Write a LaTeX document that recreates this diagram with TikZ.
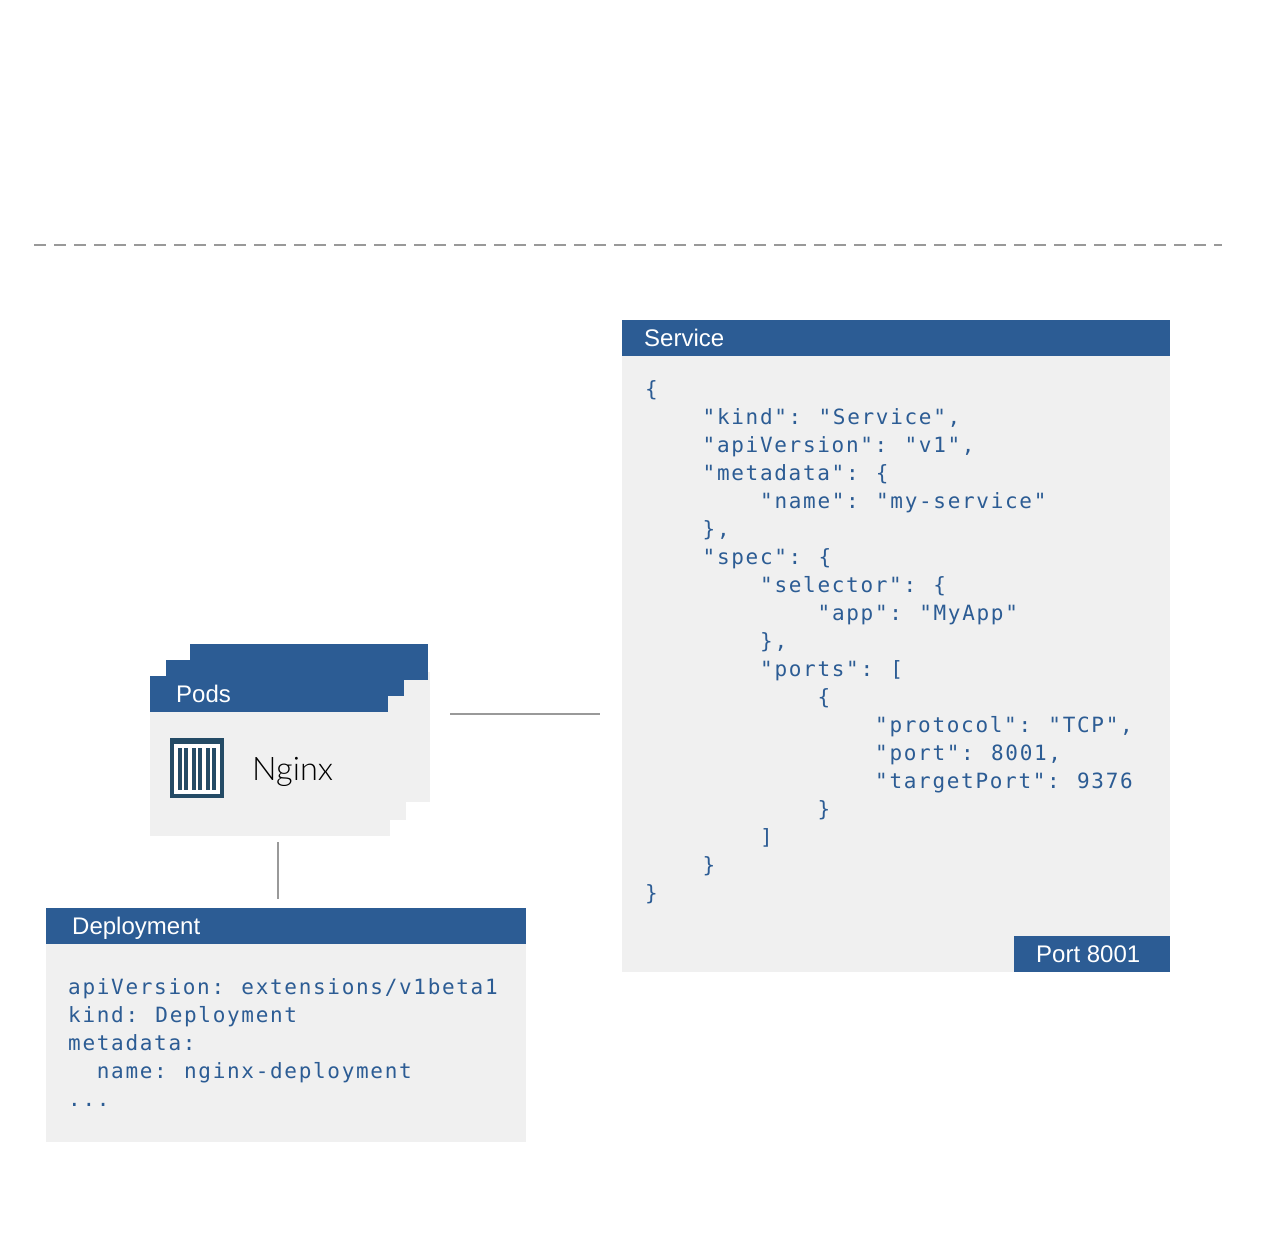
\documentclass[tikz,border=0pt]{standalone}
\usepackage{fontspec}
\setmainfont{Liberation Sans}
\newfontfamily\codefont[LetterSpace=8.05]{DejaVu Sans Mono}
\newfontfamily\lightfont{Lato Light}
\definecolor{hdr}{HTML}{2C5C94}
\definecolor{bodyg}{HTML}{F0F0F0}
\definecolor{iconc}{HTML}{244B66}
\definecolor{linec}{HTML}{999999}
\tikzset{
  box/.style={fill=#1,draw=none,inner sep=0pt,outer sep=0pt,anchor=north west},
  label/.style={text=white,inner sep=0pt,anchor=base west,font=\fontsize{24}{24}\selectfont},
  code/.style={text=hdr,inner sep=0pt,anchor=base west,font=\codefont\fontsize{21}{21}\selectfont},
  conn/.style={draw=linec,line width=2pt},
}
\newcommand{\bx}[6]{\node[box=#2,minimum width=#5pt-#3pt,minimum height=#6pt-#4pt] (#1) at (#3,#4) {};}
\newcommand{\cl}[4]{\node[code] (#1) at (#2,#3) {\spaceskip=12.5pt\relax #4};}
\begin{document}
\begin{tikzpicture}[x=1pt,y=-1pt]
\useasboundingbox (0,0) rectangle (1268,1258);
\fill[white] (0,0) rectangle (1268,1258);
\coordinate (dashL) at (34,244.5);
\coordinate (dashR) at (1222,244.5);
\draw[conn,dash pattern=on 12pt off 8pt] (dashL) -- (dashR);
% pods
\bx{podCbody}{bodyg}{190}{672}{430}{802}
\bx{podChead}{hdr}{190}{644}{428}{680}
\bx{podBbody}{bodyg}{166}{688}{406}{820}
\bx{podBhead}{hdr}{166}{660}{404}{696}
\bx{podAbody}{bodyg}{150}{704}{390}{836}
\bx{podAhead}{hdr}{150}{676}{388}{712}
\node[label] (podsL) at (176,702) {Pods};
\bx{iconO}{iconc}{170}{738}{224}{798}
\bx{iconI}{white}{174}{744}{220}{794}
\foreach \bar in {178,184,192,198,206,212} {\fill[iconc] (\bar,748) rectangle +(4,42);}
\node[inner sep=0pt,anchor=base west,font=\lightfont\fontsize{32.5}{33}\selectfont] (nginx) at (252,780) {Nginx};
% service
\bx{svcBody}{bodyg}{622}{350}{1170}{972}
\bx{svcHead}{hdr}{622}{320}{1170}{356}
\node[label] (svcL) at (644,346) {Service};
\bx{svcPort}{hdr}{1014}{936}{1170}{972}
\node[label] (portL) at (1036,962) {Port 8001};
\cl{s1}{645}{396}{\{}
\cl{s2}{702.5}{424}{"kind": "Service",}
\cl{s3}{702.5}{452}{"apiVersion": "v1",}
\cl{s4}{702.5}{480}{"metadata": \{}
\cl{s5}{760}{508}{"name": "my-service"}
\cl{s6}{702.5}{536}{\},}
\cl{s7}{702.5}{564}{"spec": \{}
\cl{s8}{760}{592}{"selector": \{}
\cl{s9}{817.5}{620}{"app": "MyApp"}
\cl{s10}{760}{648}{\},}
\cl{s11}{760}{676}{"ports": [}
\cl{s12}{817.5}{704}{\{}
\cl{s13}{875}{732}{"protocol": "TCP",}
\cl{s14}{875}{760}{"port": 8001,}
\cl{s15}{875}{788}{"targetPort": 9376}
\cl{s16}{817.5}{816}{\}}
\cl{s17}{760}{844}{]}
\cl{s18}{702.5}{872}{\}}
\cl{s19}{645}{900}{\}}
% deployment
\bx{depBody}{bodyg}{46}{940}{526}{1142}
\bx{depHead}{hdr}{46}{908}{526}{944}
\node[label] (depL) at (72,934) {Deployment};
\cl{d1}{68}{994}{apiVersion: extensions/v1beta1}
\cl{d2}{68}{1022}{kind: Deployment}
\cl{d3}{68}{1050}{metadata:}
\cl{d4}{96.7}{1078}{name: nginx-deployment}
\cl{d5}{68}{1106}{...}
% connectors
\coordinate (c1a) at (450,714);
\coordinate (c1b) at (600,714);
\draw[conn] (c1a) -- (c1b);
\coordinate (c2a) at (278,842);
\coordinate (c2b) at (278,899);
\draw[conn] (c2a) -- (c2b);
\end{tikzpicture}
\end{document}
